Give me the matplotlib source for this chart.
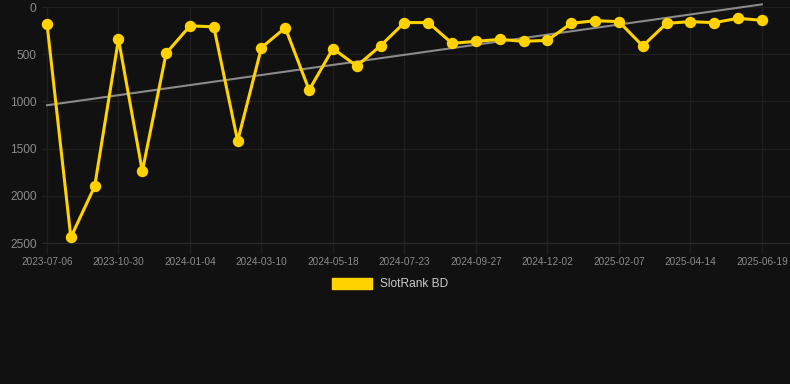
import numpy as np
import matplotlib.pyplot as plt
from matplotlib.patches import Patch

# ========================================================
# DATA

RANKS = [
    180, 2440, 1900, 340, 1740, 490, 200, 210, 1420, 430,
    220, 880, 440, 625, 410, 165, 165, 385, 364, 343,
    364, 353, 173, 145, 155, 413, 173, 155, 166, 120, 141,
]
TICK_LABELS = [
    "2023-07-06", "2023-10-30", "2024-01-04", "2024-03-10", "2024-05-18",
    "2024-07-23", "2024-09-27", "2024-12-02", "2025-02-07", "2025-04-14",
    "2025-06-19",
]
TICK_STEP = 3
SERIES_NAME = "SlotRank BD"

# ========================================================
# STYLE

BG = "#111111"
GRID = "#1f1f1f"
YELLOW = "#ffd200"
TREND = "#8a8a8a"
TEXT = "#8c8c8c"

plt.rcParams["font.family"] = ["Liberation Sans", "DejaVu Sans"]

W, H = 790, 384
fig = plt.figure(figsize=(W / 100, H / 100), dpi=100, facecolor=BG)
ax = fig.add_axes([42 / W, 1 - 243 / H, 748 / W, 236 / H], facecolor=BG)

x = np.arange(len(RANKS))
y = np.array(RANKS)

# trend (least squares over the points)
slope, intercept = np.polyfit(x, y, 1)
ax.plot([x[0], x[-1]], [intercept, slope * x[-1] + intercept],
        color=TREND, lw=1.5, zorder=2, clip_on=False)

ax.plot(x, y, color=YELLOW, lw=2.2, marker="o", markersize=7.2, zorder=3,
        clip_on=False)

ax.set_xlim(-0.21, 31.18)
ax.set_ylim(2500, 0)
ax.set_xticks(x[::TICK_STEP])
ax.set_xticklabels(TICK_LABELS)
ax.set_yticks([0, 500, 1000, 1500, 2000, 2500])

ax.tick_params(axis="x", colors=GRID, labelcolor=TEXT, labelsize=7.2,
               length=8, width=1, pad=2)
ax.tick_params(axis="y", length=0, labelcolor=TEXT, labelsize=8.6, pad=4)
ax.grid(True, color=GRID, lw=1)
for side in ["top", "right", "left"]:
    ax.spines[side].set_visible(False)
ax.spines["bottom"].set_color("#2a2a2a")

fig.legend(
    handles=[Patch(facecolor=YELLOW, edgecolor=YELLOW, label=SERIES_NAME)],
    loc="center", bbox_to_anchor=(390 / W, 1 - 284 / H), frameon=False,
    fontsize=8.6, labelcolor="#cccccc", handlelength=3.36, handleheight=1.1,
    handletextpad=0.6,
)

fig.savefig("out.png", dpi=100, facecolor=BG)
